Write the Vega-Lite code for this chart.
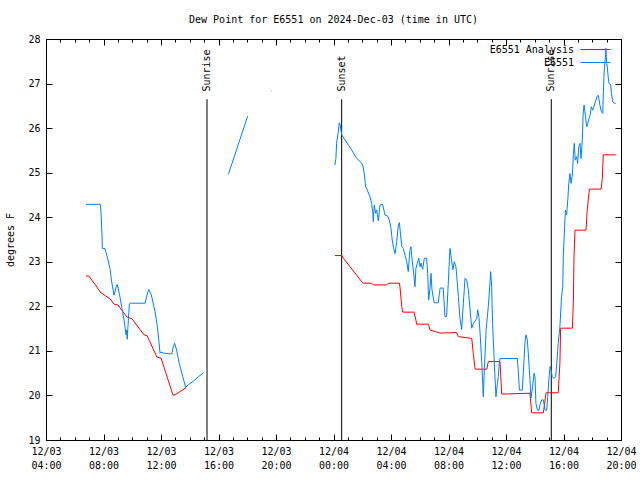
{
 "$schema": "https://vega.github.io/schema/vega-lite/v6.json",
 "width": 575, "height": 401,
 "autosize": {"type": "none"},
 "padding": {"left": 46, "top": 39, "right": 19, "bottom": 40},
 "background": "white",
 "title": {"text": "Dew Point for E6551 on 2024-Dec-03 (time in UTC)", "fontSize": 10, "fontWeight": "normal", "font": "DejaVu Sans Mono", "offset": 9, "color": "black"},
 "config": {
  "font": "DejaVu Sans Mono",
  "view": {"stroke": "black", "strokeWidth": 1},
  "axis": {"labelFont": "DejaVu Sans Mono", "labelFontSize": 10, "labelColor": "black", "titleFont": "DejaVu Sans Mono", "titleFontSize": 10, "titleFontWeight": "normal", "titleColor": "black", "domainColor": "black", "tickColor": "black", "grid": false}
 },
 "datasets": {
  "obs": [
   {"s":"E6551 Analysis","g":"A1","t":"2024-12-03T06:47:00Z","v":22.68},
   {"s":"E6551 Analysis","g":"A1","t":"2024-12-03T06:59:00Z","v":22.68},
   {"s":"E6551 Analysis","g":"A1","t":"2024-12-03T07:50:00Z","v":22.30},
   {"s":"E6551 Analysis","g":"A1","t":"2024-12-03T08:27:00Z","v":22.17},
   {"s":"E6551 Analysis","g":"A1","t":"2024-12-03T08:44:00Z","v":22.05},
   {"s":"E6551 Analysis","g":"A1","t":"2024-12-03T09:00:00Z","v":22.03},
   {"s":"E6551 Analysis","g":"A1","t":"2024-12-03T09:38:00Z","v":21.76},
   {"s":"E6551 Analysis","g":"A1","t":"2024-12-03T09:59:00Z","v":21.72},
   {"s":"E6551 Analysis","g":"A1","t":"2024-12-03T10:49:00Z","v":21.36},
   {"s":"E6551 Analysis","g":"A1","t":"2024-12-03T11:02:00Z","v":21.34},
   {"s":"E6551 Analysis","g":"A1","t":"2024-12-03T11:43:00Z","v":20.86},
   {"s":"E6551 Analysis","g":"A1","t":"2024-12-03T12:00:00Z","v":20.84},
   {"s":"E6551 Analysis","g":"A1","t":"2024-12-03T12:50:00Z","v":20.01},
   {"s":"E6551 Analysis","g":"A1","t":"2024-12-03T12:58:00Z","v":20.01},
   {"s":"E6551 Analysis","g":"A1","t":"2024-12-03T13:44:00Z","v":20.17},
   {"s":"E6551 Analysis","g":"A2","t":"2024-12-04T00:06:00Z","v":23.14},
   {"s":"E6551 Analysis","g":"A2","t":"2024-12-04T00:34:00Z","v":23.14},
   {"s":"E6551 Analysis","g":"A2","t":"2024-12-04T00:41:00Z","v":23.08},
   {"s":"E6551 Analysis","g":"A2","t":"2024-12-04T01:09:00Z","v":22.89},
   {"s":"E6551 Analysis","g":"A2","t":"2024-12-04T01:37:00Z","v":22.70},
   {"s":"E6551 Analysis","g":"A2","t":"2024-12-04T01:58:00Z","v":22.55},
   {"s":"E6551 Analysis","g":"A2","t":"2024-12-04T02:04:00Z","v":22.52},
   {"s":"E6551 Analysis","g":"A2","t":"2024-12-04T02:39:00Z","v":22.52},
   {"s":"E6551 Analysis","g":"A2","t":"2024-12-04T02:46:00Z","v":22.48},
   {"s":"E6551 Analysis","g":"A2","t":"2024-12-04T03:42:00Z","v":22.48},
   {"s":"E6551 Analysis","g":"A2","t":"2024-12-04T03:49:00Z","v":22.52},
   {"s":"E6551 Analysis","g":"A2","t":"2024-12-04T04:35:00Z","v":22.52},
   {"s":"E6551 Analysis","g":"A2","t":"2024-12-04T04:38:00Z","v":22.41},
   {"s":"E6551 Analysis","g":"A2","t":"2024-12-04T04:45:00Z","v":21.99},
   {"s":"E6551 Analysis","g":"A2","t":"2024-12-04T04:49:00Z","v":21.87},
   {"s":"E6551 Analysis","g":"A2","t":"2024-12-04T05:36:00Z","v":21.87},
   {"s":"E6551 Analysis","g":"A2","t":"2024-12-04T05:44:00Z","v":21.69},
   {"s":"E6551 Analysis","g":"A2","t":"2024-12-04T05:47:00Z","v":21.60},
   {"s":"E6551 Analysis","g":"A2","t":"2024-12-04T06:36:00Z","v":21.60},
   {"s":"E6551 Analysis","g":"A2","t":"2024-12-04T06:43:00Z","v":21.47},
   {"s":"E6551 Analysis","g":"A2","t":"2024-12-04T07:25:00Z","v":21.40},
   {"s":"E6551 Analysis","g":"A2","t":"2024-12-04T08:34:00Z","v":21.41},
   {"s":"E6551 Analysis","g":"A2","t":"2024-12-04T08:41:00Z","v":21.32},
   {"s":"E6551 Analysis","g":"A2","t":"2024-12-04T09:37:00Z","v":21.28},
   {"s":"E6551 Analysis","g":"A2","t":"2024-12-04T09:44:00Z","v":20.91},
   {"s":"E6551 Analysis","g":"A2","t":"2024-12-04T09:51:00Z","v":20.59},
   {"s":"E6551 Analysis","g":"A2","t":"2024-12-04T10:40:00Z","v":20.59},
   {"s":"E6551 Analysis","g":"A2","t":"2024-12-04T10:46:00Z","v":20.76},
   {"s":"E6551 Analysis","g":"A2","t":"2024-12-04T11:35:00Z","v":20.76},
   {"s":"E6551 Analysis","g":"A2","t":"2024-12-04T11:42:00Z","v":20.03},
   {"s":"E6551 Analysis","g":"A2","t":"2024-12-04T13:40:00Z","v":20.05},
   {"s":"E6551 Analysis","g":"A2","t":"2024-12-04T13:47:00Z","v":19.61},
   {"s":"E6551 Analysis","g":"A2","t":"2024-12-04T14:36:00Z","v":19.61},
   {"s":"E6551 Analysis","g":"A2","t":"2024-12-04T14:47:00Z","v":20.06},
   {"s":"E6551 Analysis","g":"A2","t":"2024-12-04T15:38:00Z","v":20.06},
   {"s":"E6551 Analysis","g":"A2","t":"2024-12-04T15:45:00Z","v":20.72},
   {"s":"E6551 Analysis","g":"A2","t":"2024-12-04T15:48:00Z","v":21.51},
   {"s":"E6551 Analysis","g":"A2","t":"2024-12-04T16:37:00Z","v":21.51},
   {"s":"E6551 Analysis","g":"A2","t":"2024-12-04T16:41:00Z","v":22.07},
   {"s":"E6551 Analysis","g":"A2","t":"2024-12-04T16:44:00Z","v":23.15},
   {"s":"E6551 Analysis","g":"A2","t":"2024-12-04T16:48:00Z","v":23.71},
   {"s":"E6551 Analysis","g":"A2","t":"2024-12-04T17:34:00Z","v":23.71},
   {"s":"E6551 Analysis","g":"A2","t":"2024-12-04T17:39:00Z","v":24.16},
   {"s":"E6551 Analysis","g":"A2","t":"2024-12-04T17:48:00Z","v":24.63},
   {"s":"E6551 Analysis","g":"A2","t":"2024-12-04T18:37:00Z","v":24.63},
   {"s":"E6551 Analysis","g":"A2","t":"2024-12-04T18:42:00Z","v":24.87},
   {"s":"E6551 Analysis","g":"A2","t":"2024-12-04T18:46:00Z","v":25.40},
   {"s":"E6551 Analysis","g":"A2","t":"2024-12-04T19:38:00Z","v":25.40},
   {"s":"E6551","g":"O1","t":"2024-12-03T06:47:00Z","v":24.29},
   {"s":"E6551","g":"O1","t":"2024-12-03T07:47:00Z","v":24.29},
   {"s":"E6551","g":"O1","t":"2024-12-03T07:50:00Z","v":24.07},
   {"s":"E6551","g":"O1","t":"2024-12-03T07:54:00Z","v":23.56},
   {"s":"E6551","g":"O1","t":"2024-12-03T07:55:00Z","v":23.30},
   {"s":"E6551","g":"O1","t":"2024-12-03T08:06:00Z","v":23.30},
   {"s":"E6551","g":"O1","t":"2024-12-03T08:17:00Z","v":23.08},
   {"s":"E6551","g":"O1","t":"2024-12-03T08:27:00Z","v":22.85},
   {"s":"E6551","g":"O1","t":"2024-12-03T08:33:00Z","v":22.59},
   {"s":"E6551","g":"O1","t":"2024-12-03T08:44:00Z","v":22.25},
   {"s":"E6551","g":"O1","t":"2024-12-03T08:55:00Z","v":22.48},
   {"s":"E6551","g":"O1","t":"2024-12-03T08:58:00Z","v":22.48},
   {"s":"E6551","g":"O1","t":"2024-12-03T09:06:00Z","v":22.29},
   {"s":"E6551","g":"O1","t":"2024-12-03T09:16:00Z","v":21.99},
   {"s":"E6551","g":"O1","t":"2024-12-03T09:26:00Z","v":21.69},
   {"s":"E6551","g":"O1","t":"2024-12-03T09:34:00Z","v":21.36},
   {"s":"E6551","g":"O1","t":"2024-12-03T09:37:00Z","v":21.47},
   {"s":"E6551","g":"O1","t":"2024-12-03T09:39:00Z","v":21.26},
   {"s":"E6551","g":"O1","t":"2024-12-03T09:42:00Z","v":21.54},
   {"s":"E6551","g":"O1","t":"2024-12-03T09:48:00Z","v":22.05},
   {"s":"E6551","g":"O1","t":"2024-12-03T09:51:00Z","v":22.07},
   {"s":"E6551","g":"O1","t":"2024-12-03T10:54:00Z","v":22.07},
   {"s":"E6551","g":"O1","t":"2024-12-03T11:00:00Z","v":22.23},
   {"s":"E6551","g":"O1","t":"2024-12-03T11:09:00Z","v":22.38},
   {"s":"E6551","g":"O1","t":"2024-12-03T11:20:00Z","v":22.25},
   {"s":"E6551","g":"O1","t":"2024-12-03T11:35:00Z","v":21.88},
   {"s":"E6551","g":"O1","t":"2024-12-03T11:45:00Z","v":21.54},
   {"s":"E6551","g":"O1","t":"2024-12-03T11:52:00Z","v":21.17},
   {"s":"E6551","g":"O1","t":"2024-12-03T11:56:00Z","v":20.95},
   {"s":"E6551","g":"O1","t":"2024-12-03T11:59:00Z","v":20.97},
   {"s":"E6551","g":"O1","t":"2024-12-03T12:12:00Z","v":20.95},
   {"s":"E6551","g":"O1","t":"2024-12-03T12:45:00Z","v":20.93},
   {"s":"E6551","g":"O1","t":"2024-12-03T12:51:00Z","v":21.09},
   {"s":"E6551","g":"O1","t":"2024-12-03T12:57:00Z","v":21.17},
   {"s":"E6551","g":"O1","t":"2024-12-03T13:05:00Z","v":21.02},
   {"s":"E6551","g":"O1","t":"2024-12-03T13:16:00Z","v":20.72},
   {"s":"E6551","g":"O1","t":"2024-12-03T13:31:00Z","v":20.42},
   {"s":"E6551","g":"O1","t":"2024-12-03T13:43:00Z","v":20.18},
   {"s":"E6551","g":"O1","t":"2024-12-03T13:54:00Z","v":20.24},
   {"s":"E6551","g":"O1","t":"2024-12-03T14:15:00Z","v":20.32},
   {"s":"E6551","g":"O1","t":"2024-12-03T14:36:00Z","v":20.42},
   {"s":"E6551","g":"O1","t":"2024-12-03T14:57:00Z","v":20.51},
   {"s":"E6551","g":"O2","t":"2024-12-03T16:41:00Z","v":24.96},
   {"s":"E6551","g":"O2","t":"2024-12-03T18:02:00Z","v":26.27},
   {"s":"E6551","g":"O3","t":"2024-12-03T19:39:00Z","v":26.83},
   {"s":"E6551","g":"O3","t":"2024-12-03T19:41:00Z","v":26.83},
   {"s":"E6551","g":"O4","t":"2024-12-04T00:06:00Z","v":25.17},
   {"s":"E6551","g":"O4","t":"2024-12-04T00:10:00Z","v":25.32},
   {"s":"E6551","g":"O4","t":"2024-12-04T00:13:00Z","v":25.66},
   {"s":"E6551","g":"O4","t":"2024-12-04T00:19:00Z","v":25.88},
   {"s":"E6551","g":"O4","t":"2024-12-04T00:24:00Z","v":26.12},
   {"s":"E6551","g":"O4","t":"2024-12-04T00:28:00Z","v":26.07},
   {"s":"E6551","g":"O4","t":"2024-12-04T00:34:00Z","v":25.85},
   {"s":"E6551","g":"O4","t":"2024-12-04T00:44:00Z","v":25.77},
   {"s":"E6551","g":"O4","t":"2024-12-04T01:02:00Z","v":25.62},
   {"s":"E6551","g":"O4","t":"2024-12-04T01:16:00Z","v":25.51},
   {"s":"E6551","g":"O4","t":"2024-12-04T01:37:00Z","v":25.32},
   {"s":"E6551","g":"O4","t":"2024-12-04T01:58:00Z","v":25.21},
   {"s":"E6551","g":"O4","t":"2024-12-04T02:04:00Z","v":25.13},
   {"s":"E6551","g":"O4","t":"2024-12-04T02:09:00Z","v":24.95},
   {"s":"E6551","g":"O4","t":"2024-12-04T02:14:00Z","v":24.69},
   {"s":"E6551","g":"O4","t":"2024-12-04T02:21:00Z","v":24.61},
   {"s":"E6551","g":"O4","t":"2024-12-04T02:32:00Z","v":24.46},
   {"s":"E6551","g":"O4","t":"2024-12-04T02:39:00Z","v":24.31},
   {"s":"E6551","g":"O4","t":"2024-12-04T02:44:00Z","v":24.09},
   {"s":"E6551","g":"O4","t":"2024-12-04T02:46:00Z","v":23.90},
   {"s":"E6551","g":"O4","t":"2024-12-04T02:50:00Z","v":24.27},
   {"s":"E6551","g":"O4","t":"2024-12-04T02:56:00Z","v":24.09},
   {"s":"E6551","g":"O4","t":"2024-12-04T03:00:00Z","v":24.16},
   {"s":"E6551","g":"O4","t":"2024-12-04T03:07:00Z","v":23.92},
   {"s":"E6551","g":"O4","t":"2024-12-04T03:14:00Z","v":24.27},
   {"s":"E6551","g":"O4","t":"2024-12-04T03:25:00Z","v":24.29},
   {"s":"E6551","g":"O4","t":"2024-12-04T03:35:00Z","v":24.05},
   {"s":"E6551","g":"O4","t":"2024-12-04T03:45:00Z","v":24.03},
   {"s":"E6551","g":"O4","t":"2024-12-04T03:53:00Z","v":23.94},
   {"s":"E6551","g":"O4","t":"2024-12-04T04:00:00Z","v":23.75},
   {"s":"E6551","g":"O4","t":"2024-12-04T04:05:00Z","v":23.49},
   {"s":"E6551","g":"O4","t":"2024-12-04T04:10:00Z","v":23.33},
   {"s":"E6551","g":"O4","t":"2024-12-04T04:17:00Z","v":23.18},
   {"s":"E6551","g":"O4","t":"2024-12-04T04:24:00Z","v":23.45},
   {"s":"E6551","g":"O4","t":"2024-12-04T04:30:00Z","v":23.80},
   {"s":"E6551","g":"O4","t":"2024-12-04T04:35:00Z","v":23.88},
   {"s":"E6551","g":"O4","t":"2024-12-04T04:40:00Z","v":23.60},
   {"s":"E6551","g":"O4","t":"2024-12-04T04:45:00Z","v":23.34},
   {"s":"E6551","g":"O4","t":"2024-12-04T04:51:00Z","v":23.30},
   {"s":"E6551","g":"O4","t":"2024-12-04T05:06:00Z","v":23.00},
   {"s":"E6551","g":"O4","t":"2024-12-04T05:12:00Z","v":22.78},
   {"s":"E6551","g":"O4","t":"2024-12-04T05:19:00Z","v":23.26},
   {"s":"E6551","g":"O4","t":"2024-12-04T05:23:00Z","v":23.34},
   {"s":"E6551","g":"O4","t":"2024-12-04T05:29:00Z","v":23.00},
   {"s":"E6551","g":"O4","t":"2024-12-04T05:36:00Z","v":22.67},
   {"s":"E6551","g":"O4","t":"2024-12-04T05:40:00Z","v":22.44},
   {"s":"E6551","g":"O4","t":"2024-12-04T05:44:00Z","v":22.85},
   {"s":"E6551","g":"O4","t":"2024-12-04T05:50:00Z","v":22.97},
   {"s":"E6551","g":"O4","t":"2024-12-04T05:56:00Z","v":23.08},
   {"s":"E6551","g":"O4","t":"2024-12-04T06:01:00Z","v":22.89},
   {"s":"E6551","g":"O4","t":"2024-12-04T06:05:00Z","v":22.97},
   {"s":"E6551","g":"O4","t":"2024-12-04T06:12:00Z","v":22.83},
   {"s":"E6551","g":"O4","t":"2024-12-04T06:19:00Z","v":23.08},
   {"s":"E6551","g":"O4","t":"2024-12-04T06:29:00Z","v":23.08},
   {"s":"E6551","g":"O4","t":"2024-12-04T06:33:00Z","v":22.74},
   {"s":"E6551","g":"O4","t":"2024-12-04T06:37:00Z","v":22.14},
   {"s":"E6551","g":"O4","t":"2024-12-04T06:42:00Z","v":22.37},
   {"s":"E6551","g":"O4","t":"2024-12-04T06:47:00Z","v":22.74},
   {"s":"E6551","g":"O4","t":"2024-12-04T06:51:00Z","v":22.37},
   {"s":"E6551","g":"O4","t":"2024-12-04T07:00:00Z","v":22.08},
   {"s":"E6551","g":"O4","t":"2024-12-04T07:17:00Z","v":22.08},
   {"s":"E6551","g":"O4","t":"2024-12-04T07:25:00Z","v":22.41},
   {"s":"E6551","g":"O4","t":"2024-12-04T07:38:00Z","v":22.41},
   {"s":"E6551","g":"O4","t":"2024-12-04T07:45:00Z","v":21.77},
   {"s":"E6551","g":"O4","t":"2024-12-04T07:52:00Z","v":21.77},
   {"s":"E6551","g":"O4","t":"2024-12-04T07:59:00Z","v":22.52},
   {"s":"E6551","g":"O4","t":"2024-12-04T08:06:00Z","v":23.30},
   {"s":"E6551","g":"O4","t":"2024-12-04T08:10:00Z","v":23.15},
   {"s":"E6551","g":"O4","t":"2024-12-04T08:18:00Z","v":22.82},
   {"s":"E6551","g":"O4","t":"2024-12-04T08:24:00Z","v":23.00},
   {"s":"E6551","g":"O4","t":"2024-12-04T08:31:00Z","v":22.89},
   {"s":"E6551","g":"O4","t":"2024-12-04T08:37:00Z","v":22.52},
   {"s":"E6551","g":"O4","t":"2024-12-04T08:41:00Z","v":22.22},
   {"s":"E6551","g":"O4","t":"2024-12-04T08:48:00Z","v":21.73},
   {"s":"E6551","g":"O4","t":"2024-12-04T08:55:00Z","v":21.48},
   {"s":"E6551","g":"O4","t":"2024-12-04T09:02:00Z","v":22.07},
   {"s":"E6551","g":"O4","t":"2024-12-04T09:09:00Z","v":22.63},
   {"s":"E6551","g":"O4","t":"2024-12-04T09:16:00Z","v":22.59},
   {"s":"E6551","g":"O4","t":"2024-12-04T09:23:00Z","v":22.37},
   {"s":"E6551","g":"O4","t":"2024-12-04T09:30:00Z","v":21.92},
   {"s":"E6551","g":"O4","t":"2024-12-04T09:37:00Z","v":21.51},
   {"s":"E6551","g":"O4","t":"2024-12-04T09:44:00Z","v":21.62},
   {"s":"E6551","g":"O4","t":"2024-12-04T09:51:00Z","v":21.67},
   {"s":"E6551","g":"O4","t":"2024-12-04T09:58:00Z","v":21.73},
   {"s":"E6551","g":"O4","t":"2024-12-04T10:02:00Z","v":21.92},
   {"s":"E6551","g":"O4","t":"2024-12-04T10:07:00Z","v":21.75},
   {"s":"E6551","g":"O4","t":"2024-12-04T10:11:00Z","v":21.47},
   {"s":"E6551","g":"O4","t":"2024-12-04T10:19:00Z","v":20.72},
   {"s":"E6551","g":"O4","t":"2024-12-04T10:23:00Z","v":20.24},
   {"s":"E6551","g":"O4","t":"2024-12-04T10:25:00Z","v":19.97},
   {"s":"E6551","g":"O4","t":"2024-12-04T10:29:00Z","v":20.50},
   {"s":"E6551","g":"O4","t":"2024-12-04T10:37:00Z","v":21.47},
   {"s":"E6551","g":"O4","t":"2024-12-04T10:46:00Z","v":21.99},
   {"s":"E6551","g":"O4","t":"2024-12-04T10:53:00Z","v":22.52},
   {"s":"E6551","g":"O4","t":"2024-12-04T10:56:00Z","v":22.78},
   {"s":"E6551","g":"O4","t":"2024-12-04T11:00:00Z","v":22.44},
   {"s":"E6551","g":"O4","t":"2024-12-04T11:04:00Z","v":21.62},
   {"s":"E6551","g":"O4","t":"2024-12-04T11:10:00Z","v":20.87},
   {"s":"E6551","g":"O4","t":"2024-12-04T11:14:00Z","v":20.42},
   {"s":"E6551","g":"O4","t":"2024-12-04T11:18:00Z","v":19.97},
   {"s":"E6551","g":"O4","t":"2024-12-04T11:24:00Z","v":20.27},
   {"s":"E6551","g":"O4","t":"2024-12-04T11:28:00Z","v":20.42},
   {"s":"E6551","g":"O4","t":"2024-12-04T11:32:00Z","v":20.72},
   {"s":"E6551","g":"O4","t":"2024-12-04T11:35:00Z","v":20.83},
   {"s":"E6551","g":"O4","t":"2024-12-04T12:47:00Z","v":20.83},
   {"s":"E6551","g":"O4","t":"2024-12-04T12:51:00Z","v":20.57},
   {"s":"E6551","g":"O4","t":"2024-12-04T12:56:00Z","v":20.12},
   {"s":"E6551","g":"O4","t":"2024-12-04T13:08:00Z","v":20.12},
   {"s":"E6551","g":"O4","t":"2024-12-04T13:12:00Z","v":20.50},
   {"s":"E6551","g":"O4","t":"2024-12-04T13:19:00Z","v":21.17},
   {"s":"E6551","g":"O4","t":"2024-12-04T13:23:00Z","v":21.36},
   {"s":"E6551","g":"O4","t":"2024-12-04T13:29:00Z","v":21.25},
   {"s":"E6551","g":"O4","t":"2024-12-04T13:33:00Z","v":20.95},
   {"s":"E6551","g":"O4","t":"2024-12-04T13:40:00Z","v":20.35},
   {"s":"E6551","g":"O4","t":"2024-12-04T13:44:00Z","v":19.94},
   {"s":"E6551","g":"O4","t":"2024-12-04T13:51:00Z","v":20.20},
   {"s":"E6551","g":"O4","t":"2024-12-04T13:57:00Z","v":20.50},
   {"s":"E6551","g":"O4","t":"2024-12-04T14:01:00Z","v":20.42},
   {"s":"E6551","g":"O4","t":"2024-12-04T14:05:00Z","v":19.82},
   {"s":"E6551","g":"O4","t":"2024-12-04T14:11:00Z","v":19.67},
   {"s":"E6551","g":"O4","t":"2024-12-04T14:18:00Z","v":19.67},
   {"s":"E6551","g":"O4","t":"2024-12-04T14:22:00Z","v":19.79},
   {"s":"E6551","g":"O4","t":"2024-12-04T14:29:00Z","v":19.90},
   {"s":"E6551","g":"O4","t":"2024-12-04T14:36:00Z","v":19.90},
   {"s":"E6551","g":"O4","t":"2024-12-04T14:43:00Z","v":19.67},
   {"s":"E6551","g":"O4","t":"2024-12-04T14:50:00Z","v":19.67},
   {"s":"E6551","g":"O4","t":"2024-12-04T14:54:00Z","v":19.97},
   {"s":"E6551","g":"O4","t":"2024-12-04T14:59:00Z","v":20.35},
   {"s":"E6551","g":"O4","t":"2024-12-04T15:04:00Z","v":20.65},
   {"s":"E6551","g":"O4","t":"2024-12-04T15:08:00Z","v":20.57},
   {"s":"E6551","g":"O4","t":"2024-12-04T15:13:00Z","v":20.42},
   {"s":"E6551","g":"O4","t":"2024-12-04T15:20:00Z","v":20.38},
   {"s":"E6551","g":"O4","t":"2024-12-04T15:27:00Z","v":20.42},
   {"s":"E6551","g":"O4","t":"2024-12-04T15:32:00Z","v":20.72},
   {"s":"E6551","g":"O4","t":"2024-12-04T15:38:00Z","v":21.17},
   {"s":"E6551","g":"O4","t":"2024-12-04T15:45:00Z","v":21.54},
   {"s":"E6551","g":"O4","t":"2024-12-04T15:52:00Z","v":22.22},
   {"s":"E6551","g":"O4","t":"2024-12-04T15:57:00Z","v":22.44},
   {"s":"E6551","g":"O4","t":"2024-12-04T15:59:00Z","v":23.11},
   {"s":"E6551","g":"O4","t":"2024-12-04T16:05:00Z","v":23.83},
   {"s":"E6551","g":"O4","t":"2024-12-04T16:08:00Z","v":24.16},
   {"s":"E6551","g":"O4","t":"2024-12-04T16:13:00Z","v":24.05},
   {"s":"E6551","g":"O4","t":"2024-12-04T16:18:00Z","v":24.39},
   {"s":"E6551","g":"O4","t":"2024-12-04T16:22:00Z","v":24.76},
   {"s":"E6551","g":"O4","t":"2024-12-04T16:27:00Z","v":24.98},
   {"s":"E6551","g":"O4","t":"2024-12-04T16:31:00Z","v":24.76},
   {"s":"E6551","g":"O4","t":"2024-12-04T16:36:00Z","v":24.91},
   {"s":"E6551","g":"O4","t":"2024-12-04T16:38:00Z","v":25.06},
   {"s":"E6551","g":"O4","t":"2024-12-04T16:41:00Z","v":25.40},
   {"s":"E6551","g":"O4","t":"2024-12-04T16:45:00Z","v":25.66},
   {"s":"E6551","g":"O4","t":"2024-12-04T16:49:00Z","v":25.28},
   {"s":"E6551","g":"O4","t":"2024-12-04T16:55:00Z","v":25.36},
   {"s":"E6551","g":"O4","t":"2024-12-04T16:59:00Z","v":25.21},
   {"s":"E6551","g":"O4","t":"2024-12-04T17:03:00Z","v":25.55},
   {"s":"E6551","g":"O4","t":"2024-12-04T17:09:00Z","v":25.66},
   {"s":"E6551","g":"O4","t":"2024-12-04T17:13:00Z","v":25.32},
   {"s":"E6551","g":"O4","t":"2024-12-04T17:17:00Z","v":25.59},
   {"s":"E6551","g":"O4","t":"2024-12-04T17:20:00Z","v":25.96},
   {"s":"E6551","g":"O4","t":"2024-12-04T17:22:00Z","v":26.33},
   {"s":"E6551","g":"O4","t":"2024-12-04T17:26:00Z","v":26.52},
   {"s":"E6551","g":"O4","t":"2024-12-04T17:31:00Z","v":26.29},
   {"s":"E6551","g":"O4","t":"2024-12-04T17:37:00Z","v":26.03},
   {"s":"E6551","g":"O4","t":"2024-12-04T17:41:00Z","v":26.10},
   {"s":"E6551","g":"O4","t":"2024-12-04T17:45:00Z","v":26.18},
   {"s":"E6551","g":"O4","t":"2024-12-04T17:51:00Z","v":26.29},
   {"s":"E6551","g":"O4","t":"2024-12-04T17:56:00Z","v":26.48},
   {"s":"E6551","g":"O4","t":"2024-12-04T18:02:00Z","v":26.40},
   {"s":"E6551","g":"O4","t":"2024-12-04T18:07:00Z","v":26.48},
   {"s":"E6551","g":"O4","t":"2024-12-04T18:13:00Z","v":26.59},
   {"s":"E6551","g":"O4","t":"2024-12-04T18:19:00Z","v":26.70},
   {"s":"E6551","g":"O4","t":"2024-12-04T18:25:00Z","v":26.74},
   {"s":"E6551","g":"O4","t":"2024-12-04T18:32:00Z","v":26.52},
   {"s":"E6551","g":"O4","t":"2024-12-04T18:38:00Z","v":26.37},
   {"s":"E6551","g":"O4","t":"2024-12-04T18:44:00Z","v":26.33},
   {"s":"E6551","g":"O4","t":"2024-12-04T18:46:00Z","v":26.74},
   {"s":"E6551","g":"O4","t":"2024-12-04T18:50:00Z","v":27.30},
   {"s":"E6551","g":"O4","t":"2024-12-04T18:55:00Z","v":27.60},
   {"s":"E6551","g":"O4","t":"2024-12-04T18:57:00Z","v":27.79},
   {"s":"E6551","g":"O4","t":"2024-12-04T19:00:00Z","v":27.45},
   {"s":"E6551","g":"O4","t":"2024-12-04T19:03:00Z","v":27.37},
   {"s":"E6551","g":"O4","t":"2024-12-04T19:07:00Z","v":27.12},
   {"s":"E6551","g":"O4","t":"2024-12-04T19:10:00Z","v":27.01},
   {"s":"E6551","g":"O4","t":"2024-12-04T19:17:00Z","v":26.97},
   {"s":"E6551","g":"O4","t":"2024-12-04T19:20:00Z","v":26.78},
   {"s":"E6551","g":"O4","t":"2024-12-04T19:25:00Z","v":26.59},
   {"s":"E6551","g":"O4","t":"2024-12-04T19:31:00Z","v":26.56},
   {"s":"E6551","g":"O4","t":"2024-12-04T19:38:00Z","v":26.56}
  ],
  "sun": [
   {"lab":"Sunrise","t":"2024-12-03T15:12:00Z"},
   {"lab":"Sunset","t":"2024-12-04T00:34:00Z"},
   {"lab":"Sunrise","t":"2024-12-04T15:09:00Z"}
  ]
 },
 "layer": [
  {
   "data": {"name": "sun"},
   "mark": {"type": "rule", "color": "black", "strokeWidth": 1},
   "encoding": {
    "x": {"field": "t", "type": "temporal", "scale": {"type": "utc", "domain": [1733198400000, 1733342400000], "nice": false},
     "axis": {"orient": "bottom", "title": null, "labels": false, "domain": false, "tickSize": -3,
      "values": [1733198400000,1733202000000,1733205600000,1733209200000,1733212800000,1733216400000,1733220000000,1733223600000,1733227200000,1733230800000,1733234400000,1733238000000,1733241600000,1733245200000,1733248800000,1733252400000,1733256000000,1733259600000,1733263200000,1733266800000,1733270400000,1733274000000,1733277600000,1733281200000,1733284800000,1733288400000,1733292000000,1733295600000,1733299200000,1733302800000,1733306400000,1733310000000,1733313600000,1733317200000,1733320800000,1733324400000,1733328000000,1733331600000,1733335200000,1733338800000,1733342400000]}},
    "y": {"datum": 26.65, "type": "quantitative", "axis": null},
    "y2": {"datum": 19}
   }
  },
  {
   "data": {"name": "sun"},
   "mark": {"type": "text", "angle": 270, "align": "left", "baseline": "middle", "fontSize": 10, "font": "DejaVu Sans Mono", "color": "black"},
   "encoding": {
    "x": {"field": "t", "type": "temporal",
     "axis": {"orient": "top", "title": null, "labels": false, "domain": false, "tickSize": -3,
      "values": [1733198400000,1733202000000,1733205600000,1733209200000,1733212800000,1733216400000,1733220000000,1733223600000,1733227200000,1733230800000,1733234400000,1733238000000,1733241600000,1733245200000,1733248800000,1733252400000,1733256000000,1733259600000,1733263200000,1733266800000,1733270400000,1733274000000,1733277600000,1733281200000,1733284800000,1733288400000,1733292000000,1733295600000,1733299200000,1733302800000,1733306400000,1733310000000,1733313600000,1733317200000,1733320800000,1733324400000,1733328000000,1733331600000,1733335200000,1733338800000,1733342400000]}},
    "y": {"datum": 26.82, "type": "quantitative", "axis": null},
    "text": {"field": "lab"}
   }
  },
  {
   "data": {"name": "obs"},
   "transform": [{"filter": "datum.s == 'E6551 Analysis'"}],
   "mark": {"type": "line", "strokeWidth": 1},
   "encoding": {
    "x": {"field": "t", "type": "temporal",
     "axis": {"orient": "bottom", "title": null, "tickSize": -6, "labelPadding": 12, "labelFlush": false, "labelOverlap": false, "labelLineHeight": 14,
      "values": [1733198400000,1733212800000,1733227200000,1733241600000,1733256000000,1733270400000,1733284800000,1733299200000,1733313600000,1733328000000,1733342400000],
      "labelExpr": "[utcFormat(datum.value, '%m/%d'), utcFormat(datum.value, '%H:%M')]"}},
    "y": {"field": "v", "type": "quantitative", "scale": {"domain": [19, 28], "nice": false, "zero": false},
     "axis": {"orient": "left", "title": "degrees F", "values": [19, 20, 21, 22, 23, 24, 25, 26, 27, 28], "tickSize": -6, "labelPadding": 12, "titlePadding": 12}},
    "color": {"field": "s", "type": "nominal", "scale": {"domain": ["E6551 Analysis", "E6551"], "range": ["#ff0000", "#0080ff"]},
     "legend": {"orient": "none", "legendX": 544, "legendY": 5, "title": null, "symbolType": "M-3,0H3", "symbolSize": 100, "symbolStrokeWidth": 1, "labelAlign": "right", "labelOffset": -27, "labelFont": "DejaVu Sans Mono", "labelFontSize": 10, "labelColor": "black", "rowPadding": 2, "padding": 0}},
    "detail": {"field": "g"}
   }
  },
  {
   "data": {"name": "obs"},
   "transform": [{"filter": "datum.s == 'E6551'"}],
   "mark": {"type": "line", "strokeWidth": 1},
   "encoding": {
    "x": {"field": "t", "type": "temporal",
     "axis": {"orient": "top", "title": null, "labels": false, "tickSize": -6,
      "values": [1733198400000,1733212800000,1733227200000,1733241600000,1733256000000,1733270400000,1733284800000,1733299200000,1733313600000,1733328000000,1733342400000]}},
    "y": {"field": "v", "type": "quantitative",
     "axis": {"orient": "right", "title": null, "labels": false, "values": [19, 20, 21, 22, 23, 24, 25, 26, 27, 28], "tickSize": -6}},
    "color": {"field": "s", "type": "nominal"},
    "detail": {"field": "g"}
   }
  }
 ],
 "resolve": {"axis": {"x": "independent", "y": "independent"}}
}
